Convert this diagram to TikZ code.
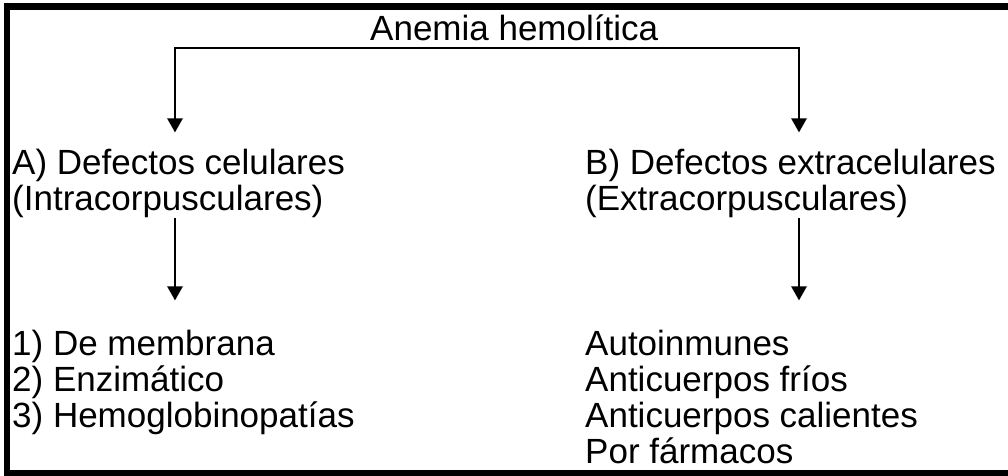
\documentclass[tikz,border=0pt]{standalone}
\usepackage{fontspec}
\setmainfont{Liberation Sans}
\usetikzlibrary{arrows.meta}

\tikzset{
  lbl/.style={anchor=base west, inner sep=0pt, align=left, font=\fontsize{35}{36}\selectfont},
  arr/.style={-{Triangle[width=15pt,length=14pt]}, line width=2.5pt},
}

\begin{document}
\begin{tikzpicture}[x=1pt,y=-1pt]
\useasboundingbox (0,0) rectangle (1008,475);

% frame, right side cut off
\draw[line width=6.5pt] (1015,6.5) -- (7,6.5) -- (7,473.5) -- (1015,473.5);

\node[lbl] (title) at (370,40) {Anemia hemolítica};

% base of a multi-line node = baseline of its last line
\node[lbl] (catA) at (12,210) {A) Defectos celulares\\(Intracorpusculares)};
\node[lbl] (catB) at (585,210) {B) Defectos extracelulares\\(Extracorpusculares)};

\node[lbl] (listA) at (12,427) {1) De membrana\\2) Enzimático\\3) Hemoglobinopatías};
\node[lbl] (listB) at (585,463) {Autoinmunes\\Anticuerpos fríos\\Anticuerpos calientes\\Por fármacos};

\coordinate (splitL) at (175,48);
\coordinate (splitR) at (799,48);

\draw[line width=2pt] (splitL) -- (splitR);
\draw[arr, shorten >=16pt] ([yshift=1pt]splitL) -- (splitL |- catA.north);
\draw[arr, shorten >=16pt] ([yshift=1pt]splitR) -- (splitR |- catB.north);

\draw[arr, shorten <=1pt, shorten >=29pt] (splitL |- catA.south) -- (splitL |- listA.north);
\draw[arr, shorten <=1pt, shorten >=29pt] (splitR |- catB.south) -- (splitR |- listB.north);

\end{tikzpicture}
\end{document}
